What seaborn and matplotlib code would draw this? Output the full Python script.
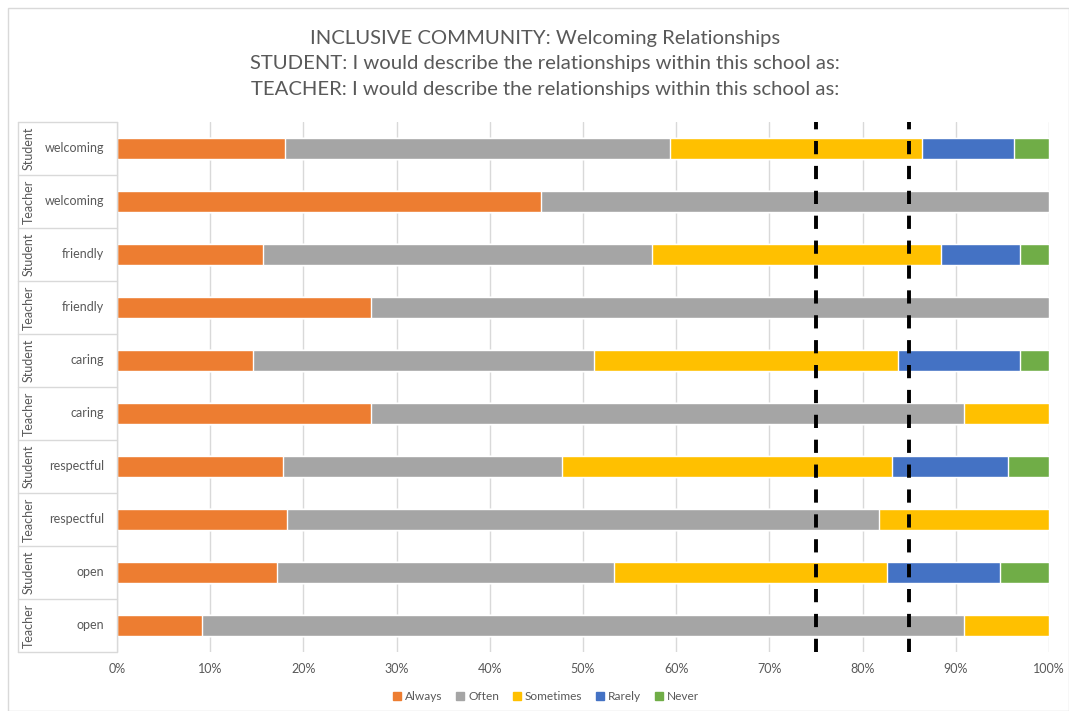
import numpy as np
import pandas as pd
import matplotlib
matplotlib.use('Agg')
import matplotlib.pyplot as plt
import seaborn as sns
from matplotlib.patches import Rectangle
from matplotlib.lines import Line2D

# ---- data (percent of respondents) ----
groups = ['Student', 'Teacher', 'Student', 'Teacher', 'Student',
          'Teacher', 'Student', 'Teacher', 'Student', 'Teacher']
items = ['welcoming', 'welcoming', 'friendly', 'friendly', 'caring',
         'caring', 'respectful', 'respectful', 'open', 'open']
responses = ['Always', 'Often', 'Sometimes', 'Rarely', 'Never']

always = [18.0, 45.5, 15.7, 27.3, 14.6, 27.3, 17.8, 18.2, 17.2, 9.1]
often = [41.3, 54.5, 41.7, 72.7, 36.6, 63.6, 29.9, 63.6, 36.1, 81.8]
sometimes = [27.1, 0.0, 31.0, 0.0, 32.6, 9.1, 35.5, 18.2, 29.3, 9.1]
rarely = [9.8, 0.0, 8.5, 0.0, 13.1, 0.0, 12.4, 0.0, 12.1, 0.0]
never = [3.8, 0.0, 3.1, 0.0, 3.1, 0.0, 4.4, 0.0, 5.3, 0.0]

colors = ['#ED7D31', '#A5A5A5', '#FFC000', '#4472C4', '#70AD47']
ref_lines = [75, 85]

title = ('INCLUSIVE COMMUNITY: Welcoming Relationships\n'
         'STUDENT: I would describe the relationships within this school as:\n'
         'TEACHER: I would describe the relationships within this school as:')

# ---- build table ----
df = pd.DataFrame({'Always': always, 'Often': often, 'Sometimes': sometimes,
                   'Rarely': rarely, 'Never': never})
df['row'] = [f'{g} {i}' for g, i in zip(groups, items)]
cum = df[responses].cumsum(axis=1)
cum['row'] = df['row']

sns.set_style('white')
plt.rcParams['font.family'] = ['Lato', 'DejaVu Sans']
text_col = '#595959'

fig = plt.figure(figsize=(10.69, 7.11), dpi=100)
ax = fig.add_axes([117 / 1069, 1 - 652 / 711, 932 / 1069, 530 / 711])

# stacked bars: draw cumulative totals from largest to smallest
for resp, col in reversed(list(zip(responses, colors))):
    sns.barplot(data=cum, x=resp, y='row', orient='h', color=col,
                width=0.41, saturation=1, ax=ax, zorder=2)

ax.set_xlim(0, 100)
ax.set_ylim(9.5, -0.5)
ax.set_xticks(np.arange(0, 101, 10))
ax.set_xticklabels([f'{v}%' for v in range(0, 101, 10)], color=text_col, fontsize=9)
ax.tick_params(axis='x', length=0, pad=8)
ax.set_xlabel('')
ax.set_ylabel('')
ax.set_yticks([])
ax.grid(axis='x', color='#D9D9D9', lw=1, zorder=0)
ax.set_axisbelow(True)
for s in ax.spines.values():
    s.set_visible(False)

for v in ref_lines:
    ax.axvline(v, color='black', lw=2.8, dashes=(3.4, 3.0), zorder=5)

# category axis: two-level labels with separators
trans = ax.get_yaxis_transform()
x_left = -(117 - 18) / 932
line_kw = dict(color='#D9D9D9', lw=1, transform=trans, clip_on=False)
ax.plot([x_left, x_left], [-0.5, 9.5], **line_kw)
ax.plot([0, 0], [-0.5, 9.5], **line_kw)
for k in range(11):
    ax.plot([x_left, 0], [k - 0.5, k - 0.5], **line_kw)
for k, (g, it) in enumerate(zip(groups, items)):
    ax.text(-13 / 932, k, it, transform=trans, ha='right', va='center',
            fontsize=9, color=text_col)
    ax.text(-(117 - 29) / 932, k, g, transform=trans, ha='center', va='center',
            rotation=90, fontsize=9, color=text_col)

fig.text(545 / 1069, 1 - 64 / 711, title, ha='center', va='center',
         fontsize=14.6, color=text_col, linespacing=1.6)

handles = [Line2D([], [], marker='s', ls='', color=c, markersize=5.5) for c in colors]
fig.legend(handles, responses, loc='center', bbox_to_anchor=(546 / 1069, 1 - 697 / 711),
           ncol=5, frameon=False, fontsize=8.6, handlelength=0.7, handletextpad=0.35,
           columnspacing=1.1, labelcolor=text_col)

fig.patches.append(Rectangle((8 / 1069, 0), 1 - 8 / 1069, 1 - 8 / 711,
                             transform=fig.transFigure, fill=False,
                             edgecolor='#D9D9D9', lw=1))

fig.savefig('out.png', dpi=100)
